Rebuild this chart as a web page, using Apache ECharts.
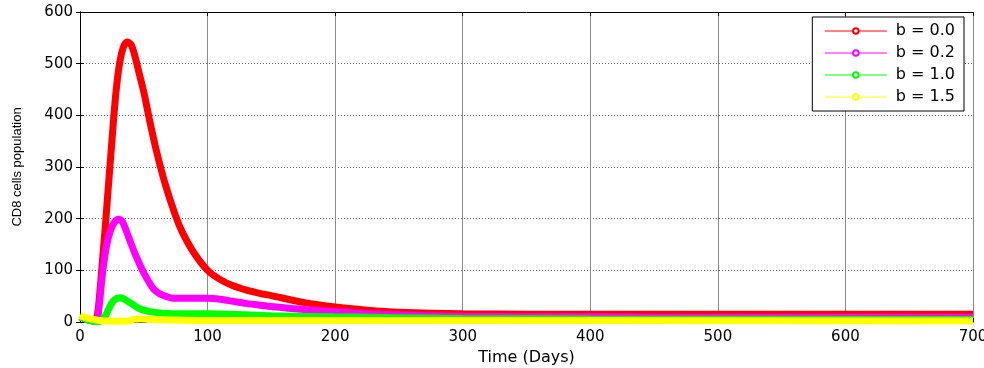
<!DOCTYPE html>
<html>
<head>
<meta charset="utf-8">
<script src="https://cdn.jsdelivr.net/npm/echarts@6/dist/echarts.min.js"></script>
<style>
  html, body { margin: 0; padding: 0; background: #fff; }
  #main { width: 984px; height: 368px; }
</style>
</head>
<body>
<div id="main"></div>
<script>
// [time (days), CD8 count]
var b00 = [[0,10],[5,5],[10,2],[12,2],[14,20],[16,70],[18,130],[20,190],[22,255],[25,350],[28,440],[31,500],[34,532],[37,542],[40,537],[43,515],[46,485],[50,445],[55,385],[60,330],[67,265],[75,205],[80,175],[89,135],[100,100],[110,82],[120,70],[130,62],[140,56],[150,51],[175,38],[200,29],[225,23],[250,19],[300,16],[400,15],[500,15],[600,15],[700,15]];
var b02 = [[0,10],[5,5],[10,2],[13,2],[15,30],[17,80],[19,120],[21,150],[24,178],[27,193],[30,199],[33,195],[36,178],[40,152],[43,133],[50,95],[58,63],[65,52],[75,46],[90,46],[100,46],[110,44],[120,40],[130,36],[140,33],[150,30],[175,24],[200,20],[225,16],[250,14],[300,11],[400,10],[500,9],[600,9],[700,9]];
var b10 = [[0,10],[5,5],[10,2],[15,1],[17,3],[20,12],[23,28],[26,40],[29,46],[32,47],[35,44],[40,36],[45,28],[50,23],[55,20],[65,17],[80,16],[100,16],[130,14],[150,12],[200,10],[300,7],[400,6],[700,5]];
var b15 = [[0,12],[5,8],[10,5],[15,3],[20,2],[30,1.5],[38,2],[42,5],[48,6],[55,5],[70,4],[100,3],[200,3],[700,2]];

var seriesNames = ['b = 0.0', 'b = 0.2', 'b = 1.0', 'b = 1.5'];
var seriesColors = ['#ff0000', '#ff00ff', '#00ff00', '#ffff00'];
var seriesData = [b00, b02, b10, b15];

var myChart = echarts.init(document.getElementById('main'));

var tickFont = { fontFamily: 'DejaVu Sans', fontSize: 15, color: '#000' };

var series = seriesData.map(function (d, i) {
    return {
        name: seriesNames[i],
        type: 'line',
        data: d,
        smooth: 0.3,
        symbol: 'emptyCircle',
        symbolSize: 5,
        showSymbol: false,
        clip: false,
        lineStyle: { color: seriesColors[i], width: 7 },
        itemStyle: { color: seriesColors[i], borderColor: seriesColors[i], borderWidth: 1 },
        emphasis: { disabled: true }
    };
});

var option = {
    animation: false,
    backgroundColor: '#fff',
    grid: { left: 80, right: 11, top: 12, bottom: 46, outerBoundsMode: 'none' },
    legend: {
        orient: 'vertical',
        right: 20,
        top: 17,
        backgroundColor: '#fff',
        borderColor: '#000',
        borderWidth: 1,
        padding: [6, 9, 6, 12],
        itemGap: 6,
        itemWidth: 62,
        itemHeight: 7,
        itemStyle: { borderWidth: 1.2 },
        lineStyle: { width: 1 },
        textStyle: { fontFamily: 'DejaVu Sans', fontSize: 16, color: '#000', padding: [0, 0, 0, 4] },
        data: seriesNames
    },
    xAxis: [{
        type: 'value',
        min: 0,
        max: 700,
        interval: 100,
        name: 'Time (Days)',
        nameLocation: 'middle',
        nameGap: 27,
        nameTextStyle: { fontFamily: 'DejaVu Sans', fontSize: 16, color: '#000' },
        axisLine: { lineStyle: { color: '#000', width: 1 } },
        axisTick: { inside: true, length: 4, lineStyle: { color: '#000' } },
        axisLabel: Object.assign({ margin: 8 }, tickFont),
        splitLine: { show: true, lineStyle: { color: '#8a8a8a', width: 1 } }
    }, {
        type: 'value',
        position: 'top',
        min: 0,
        max: 700,
        interval: 100,
        axisLine: { show: true, onZero: false, lineStyle: { color: '#000', width: 1 } },
        axisTick: { inside: true, length: 4, lineStyle: { color: '#000' } },
        axisLabel: { show: false },
        splitLine: { show: false }
    }],
    yAxis: [{
        type: 'value',
        min: 0,
        max: 600,
        interval: 100,
        name: 'CD8 cells population',
        nameLocation: 'middle',
        nameGap: 56,
        nameTextStyle: { fontFamily: 'Liberation Sans', fontSize: 13, color: '#000' },
        axisLine: { show: true, lineStyle: { color: '#000', width: 1 } },
        axisTick: { show: true, inside: true, length: 4, lineStyle: { color: '#000' } },
        axisLabel: Object.assign({ margin: 7 }, tickFont),
        splitLine: { show: true, lineStyle: { color: '#666', width: 1, type: [1, 2] } }
    }, {
        type: 'value',
        position: 'right',
        min: 0,
        max: 600,
        interval: 100,
        axisLine: { show: true, lineStyle: { color: '#000', width: 1 } },
        axisTick: { show: true, inside: true, length: 4, lineStyle: { color: '#000' } },
        axisLabel: { show: false },
        splitLine: { show: false }
    }],
    series: series
};

myChart.setOption(option);
</script>
</body>
</html>
